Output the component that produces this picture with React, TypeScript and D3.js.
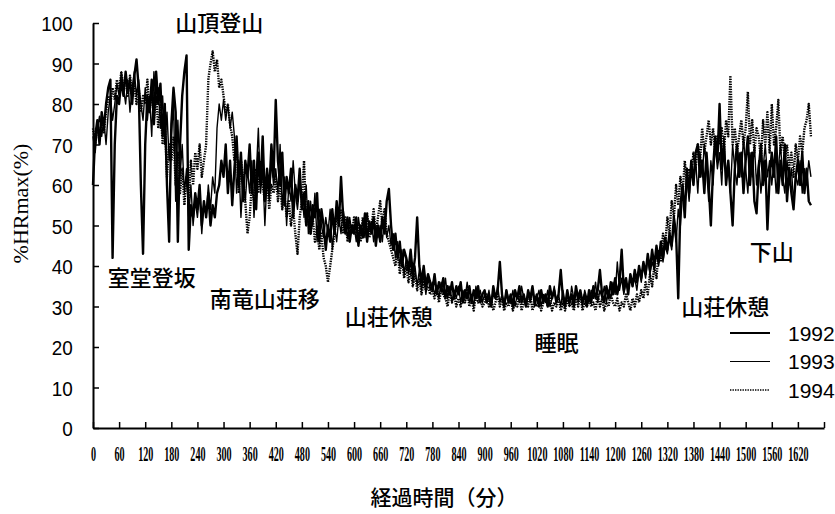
import { useEffect, useRef } from 'react';
import * as d3 from 'd3';

// heart-rate readings every 5 minutes, 0 .. 1650 min
const STEP = 5;

const hr1992 = [
  60, 72, 76, 70, 78, 74, 80, 84, 86, 42, 70, 82,
  80, 86, 82, 88, 83, 86, 80, 87, 91, 84, 60, 43,
  70, 82, 78, 86, 75, 88, 80, 85, 72, 80, 60, 46,
  75, 84, 78, 46, 70, 82, 88, 92, 44, 55, 52, 58,
  54, 60, 50, 56, 52, 58, 50, 55, 52, 58, 60, 66,
  62, 70, 58, 66, 55, 64, 72, 60, 68, 56, 66, 62,
  70, 58, 66, 54, 68, 60, 72, 56, 64, 58, 70, 62,
  81, 66, 60, 68, 55, 62, 58, 64, 52, 60, 56, 64,
  54, 58, 50, 56, 48, 55, 52, 58, 46, 54, 50, 44,
  50, 46, 54, 48, 56, 50, 62, 52, 48, 52, 46, 50,
  48, 52, 45, 50, 47, 53, 46, 51, 48, 52, 45, 50,
  46, 52, 48, 56, 59, 50, 44, 48, 42, 46, 40, 44,
  42, 39, 44, 38, 42, 52, 40, 36, 40, 35, 38, 36,
  34, 38, 33, 36, 34, 37, 32, 35, 33, 36, 32, 35,
  33, 36, 31, 34, 32, 35, 31, 34, 32, 35, 31, 33,
  34, 31, 33, 30, 35, 32, 34, 41, 33, 30, 34, 31,
  33, 30, 34, 32, 35, 31, 33, 30, 34, 32, 35, 31,
  33, 30, 34, 31, 33, 30, 35, 32, 34, 31, 33, 39,
  32, 30, 34, 31, 33, 30, 35, 32, 34, 31, 33, 30,
  34, 31, 35, 32, 34, 39, 33, 31, 35, 32, 36, 33,
  37, 33, 36, 44, 34, 37, 33, 38, 35, 39, 36, 40,
  37, 41, 38, 43, 39, 44, 40, 45, 41, 46, 42, 47,
  44, 48, 45, 52, 48, 32, 55, 60, 52, 64, 58, 66,
  60, 68, 70, 62, 66, 58, 68, 60, 50, 64, 72, 66,
  80, 64, 70, 60, 66, 58, 50, 64, 70, 62, 68, 58,
  66, 72, 60, 68, 56, 53, 64, 70, 60, 66, 49, 62,
  68, 62, 72, 58, 66, 60, 70, 56, 64, 58, 54, 62,
  66, 60, 68, 58, 64, 56, 55,
];

const hr1993 = [
  72, 68, 74, 77, 72, 76, 70, 78, 82, 76, 80, 85,
  82, 88, 84, 80, 86, 78, 84, 88, 82, 86, 80, 76,
  84, 76, 82, 72, 88, 80, 84, 74, 82, 70, 78, 66,
  72, 80, 56, 76, 62, 70, 58, 64, 52, 60, 50, 56,
  52, 58, 48, 56, 52, 60, 54, 62, 58, 74, 80, 76,
  81, 76, 80, 74, 78, 72, 58, 66, 52, 62, 56, 64,
  58, 66, 52, 62, 74, 58, 64, 50, 62, 56, 66, 60,
  64, 58, 70, 54, 62, 50, 60, 56, 66, 58, 54, 60,
  58, 52, 60, 48, 56, 50, 58, 46, 54, 50, 47, 52,
  48, 54, 44, 50, 46, 52, 48, 54, 50, 47, 52, 48,
  50, 46, 52, 48, 51, 47, 53, 49, 51, 46, 50, 47,
  50, 46, 52, 47, 50, 45, 48, 42, 46, 40, 44, 38,
  42, 38, 41, 36, 40, 35, 39, 34, 38, 33, 37, 34,
  36, 33, 35, 32, 36, 33, 37, 32, 35, 31, 34, 32,
  35, 31, 34, 32, 36, 31, 33, 30, 35, 32, 34, 31,
  33, 31, 34, 30, 33, 32, 35, 31, 33, 30, 34, 32,
  31, 34, 30, 33, 31, 35, 32, 30, 33, 31, 34, 30,
  32, 34, 30, 33, 31, 34, 30, 32, 35, 31, 33, 30,
  34, 31, 33, 30, 35, 32, 34, 31, 33, 30, 34, 32,
  31, 34, 32, 36, 31, 34, 32, 35, 31, 34, 32, 36,
  33, 41, 34, 37, 33, 36, 34, 38, 35, 37, 34, 39,
  36, 40, 37, 42, 38, 41, 39, 43, 40, 44, 41, 45,
  43, 47, 44, 50, 46, 54, 50, 58, 54, 62, 56, 64,
  60, 66, 58, 68, 62, 70, 64, 56, 66, 60, 70, 64,
  68, 60, 72, 62, 66, 58, 70, 64, 60, 68, 62, 72,
  64, 58, 68, 62, 70, 60, 66, 58, 64, 70, 62, 66,
  60, 66, 58, 64, 70, 62, 58, 66, 60, 64, 56, 62,
  60, 66, 58, 64, 60, 66, 62,
];

const hr1994 = [
  74, 70, 75, 72, 76, 73, 78, 82, 80, 84, 81, 86,
  83, 88, 84, 86, 82, 87, 83, 85, 80, 84, 78, 82,
  80, 86, 78, 84, 76, 82, 74, 80, 70, 76, 62, 70,
  66, 72, 60, 68, 58, 64, 55, 62, 56, 66, 60, 68,
  64, 70, 62, 66, 70, 86, 90, 93, 88, 91, 84, 86,
  82, 78, 80, 75, 72, 66, 70, 58, 66, 62, 56, 48,
  52, 60, 56, 64, 58, 66, 60, 56, 62, 54, 60, 58,
  62, 56, 60, 54, 58, 52, 56, 50, 54, 48, 43, 52,
  56, 66, 50, 54, 48, 52, 46, 50, 44, 48, 42, 40,
  36, 40, 44, 48, 52, 50, 54, 48, 52, 46, 50, 48,
  52, 48, 50, 46, 52, 49, 53, 47, 50, 54, 48, 52,
  56, 50, 54, 48, 46, 44, 42, 40, 44, 38, 42, 37,
  40, 36, 39, 35, 38, 34, 37, 33, 36, 34, 35, 33,
  34, 32, 35, 31, 34, 33, 32, 30, 34, 31, 33, 30,
  32, 30, 33, 31, 34, 30, 32, 29, 33, 31, 32, 30,
  31, 33, 30, 32, 29, 31, 33, 30, 32, 29, 31, 30,
  32, 29, 31, 30, 33, 29, 31, 32, 30, 33, 29, 31,
  30, 32, 29, 31, 33, 30, 32, 29, 31, 30, 32, 29,
  31, 29, 32, 30, 31, 29, 32, 30, 33, 29, 31, 30,
  32, 30, 31, 29, 33, 30, 32, 29, 31, 30, 33, 31,
  30, 32, 29, 31, 30, 33, 31, 29, 32, 30, 33, 31,
  34, 32, 36, 33, 38, 35, 40, 37, 44, 41, 48, 45,
  52, 48, 56, 52, 60, 55, 62, 58, 66, 60, 64, 62,
  68, 64, 70, 66, 74, 68, 72, 76, 70, 74, 68, 72,
  70, 74, 68, 76, 72, 87, 70, 74, 68, 72, 76, 70,
  74, 83, 70, 76, 68, 74, 72, 66, 76, 70, 78, 68,
  80, 70, 74, 81, 68, 72, 66, 70, 64, 68, 62, 70,
  66, 72, 68, 74, 76, 80, 72,
];

const years = ['1992', '1993', '1994'];
const yTicks = [0, 10, 20, 30, 40, 50, 60, 70, 80, 90, 100];
const xTicks = d3.range(0, 1681, 60);

const notes = [
  { text: '山頂登山', t: 290, v: 98 },
  { text: '室堂登坂', t: 135, v: 35 },
  { text: '南竜山荘移', t: 395, v: 30 },
  { text: '山荘休憩', t: 680, v: 25.5 },
  { text: '睡眠', t: 1065, v: 19 },
  { text: '山荘休憩', t: 1453, v: 28 },
  { text: '下山', t: 1560, v: 41.5 },
];

const App = () => {
  const svgRef = useRef<SVGSVGElement>(null);

  useEffect(() => {
    if (!svgRef.current) return;
    svgRef.current.innerHTML = '';
    const width = 835;
    const height = 514;
    const marginLeft = 93;
    const marginRight = 11;
    const marginTop = 23;
    const marginBottom = 86;

    const x = d3.scaleLinear([0, 1680], [marginLeft, width - marginRight]);
    const y = d3.scaleLinear([0, 100], [height - marginBottom, marginTop]);

    const svg = d3.select(svgRef.current);

    const line = d3
      .line<number>()
      .x((_, i) => x(i * STEP))
      .y((d) => y(d));

    const series = [
      { data: hr1992, width: 2.4, dash: null as string | null },
      { data: hr1993, width: 1.4, dash: null as string | null },
      { data: hr1994, width: 2.4, dash: '1.4 1.1' },
    ];

    series.forEach((s) => {
      svg
        .append('path')
        .attr('fill', 'none')
        .attr('stroke', '#000')
        .attr('stroke-width', s.width)
        .attr('stroke-linejoin', 'round')
        .attr('stroke-dasharray', s.dash)
        .attr('d', line(s.data));
    });

    // x axis, ticks pointing up, condensed labels
    svg
      .append('g')
      .attr('transform', `translate(0,${height - marginBottom})`)
      .call(
        d3
          .axisBottom(x)
          .tickValues(xTicks)
          .tickSizeInner(-6)
          .tickSizeOuter(0)
          .tickFormat((d) => (+d >= 1680 ? '' : String(d)))
      )
      .call((g) => g.select('.domain').attr('stroke-width', 2))
      .call((g) => g.selectAll('.tick line').attr('stroke-width', 1.5))
      .call((g) =>
        g
          .selectAll('.tick text')
          .attr('y', 33)
          .attr('dy', 0)
          .attr('fill', '#000')
          .attr('font-family', '"Liberation Serif", serif')
          .attr('font-size', 22)
          .attr('font-weight', 600)
          .attr('transform', 'scale(0.46,1)')
      );

    // y axis
    svg
      .append('g')
      .attr('transform', `translate(${marginLeft},0)`)
      .call(d3.axisLeft(y).tickValues(yTicks).tickSizeInner(-6).tickSizeOuter(0))
      .call((g) => g.select('.domain').attr('stroke-width', 2))
      .call((g) => g.selectAll('.tick line').attr('stroke-width', 1.5))
      .call((g) =>
        g
          .selectAll('.tick text')
          .attr('x', -22.5)
          .attr('dy', '0.36em')
          .attr('fill', '#000')
          .attr('font-family', '"Liberation Sans", Arial, sans-serif')
          .attr('font-size', 21)
          .attr('transform', 'scale(0.9,1)')
      );

    // y title
    svg
      .append('text')
      .attr('transform', `translate(28,${(marginTop + height - marginBottom) / 2 - 22}) rotate(-90)`)
      .attr('text-anchor', 'middle')
      .attr('font-family', '"Liberation Serif", serif')
      .attr('font-size', 22)
      .text('%HRmax(%)');

    // x title
    svg
      .append('text')
      .attr('x', 444)
      .attr('y', 505)
      .attr('text-anchor', 'middle')
      .attr('font-family', '"Noto Sans CJK JP", sans-serif')
      .attr('font-weight', 500)
      .attr('font-size', 21)
      .text('経過時間（分）');

    // activity notes
    svg
      .append('g')
      .selectAll('text')
      .data(notes)
      .join('text')
      .attr('x', (d) => x(d.t))
      .attr('y', (d) => y(d.v))
      .attr('text-anchor', 'middle')
      .attr('font-family', '"Noto Sans CJK JP", sans-serif')
      .attr('font-weight', 500)
      .attr('font-size', 22)
      .text((d) => d.text);

    // legend
    const legend = svg
      .append('g')
      .selectAll('g')
      .data(series)
      .join('g')
      .attr('transform', (_, i) => `translate(730,${333 + i * 28.5})`);
    legend
      .append('line')
      .attr('x2', 40)
      .attr('stroke', '#000')
      .attr('stroke-width', (d) => (d.dash ? 1.5 : d.width - 0.3))
      .attr('stroke-dasharray', (d) => d.dash);
    legend
      .append('text')
      .attr('x', 58)
      .attr('dy', '0.36em')
      .attr('font-family', '"Liberation Sans", Arial, sans-serif')
      .attr('font-size', 21)
      .text((_, i) => years[i]);
  }, []);

  return (
    <svg
      ref={svgRef}
      width={835}
      height={514}
      style={{ position: 'absolute', left: 0, top: 0, background: '#fff' }}
    />
  );
};

export default App;
